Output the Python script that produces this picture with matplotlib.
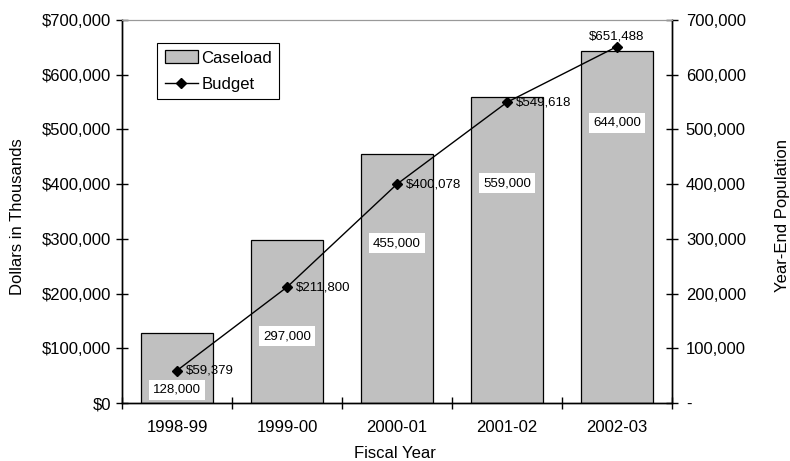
import numpy as np
import matplotlib
matplotlib.use("Agg")
import matplotlib.pyplot as plt
from matplotlib.ticker import FuncFormatter, FixedLocator

plt.rcParams['font.family'] = ['Liberation Sans', 'DejaVu Sans']

years = ["1998-99", "1999-00", "2000-01", "2001-02", "2002-03"]
caseload = [128000, 297000, 455000, 559000, 644000]
budget = [59379, 211800, 400078, 549618, 651488]

# where the bar value boxes sit (right-axis units)
caseload_label_y = [24000, 122000, 292000, 402000, 512000]

x = np.arange(len(years))
W, H = 790, 461

fig = plt.figure(figsize=(W / 100, H / 100), dpi=100)
ax = fig.add_axes([122 / W, 1 - 403 / H, 550 / W, 383 / H])
ax2 = ax.twinx()

# bars on right axis, line on left axis drawn above
ax.set_zorder(ax2.get_zorder() + 1)
ax.patch.set_visible(False)

bars = ax2.bar(x, caseload, width=0.66, color='#c0c0c0', edgecolor='black',
               linewidth=0.9, label='Caseload')
for xi, v, ly in zip(x, caseload, caseload_label_y):
    ax2.text(xi, ly, f"{v:,}", ha='center', va='center', fontsize=9.5,
             bbox=dict(facecolor='white', edgecolor='none', pad=3))

line, = ax.plot(x, budget, color='black', linewidth=1, marker='D',
                markersize=5.5, label='Budget')
for xi, v in zip(x, budget):
    if xi == len(x) - 1:
        ax.text(xi, v + 8000, f"${v:,}", ha='center', va='bottom', fontsize=9.5)
    else:
        ax.text(xi + 0.08, v, f"${v:,}", ha='left', va='center', fontsize=9.5)

for a in (ax, ax2):
    a.set_xlim(-0.5, len(x) - 0.5)
    a.set_ylim(0, 700000)
    a.set_yticks(np.arange(0, 700001, 100000))
    a.spines['top'].set_color('#999999')
    for s in ('left', 'right', 'bottom'):
        a.spines[s].set_linewidth(1)

ax.yaxis.set_major_formatter(FuncFormatter(lambda v, p: f"${v:,.0f}"))
ax2.yaxis.set_major_formatter(FuncFormatter(lambda v, p: "-" if v == 0 else f"{v:,.0f}"))

ax.xaxis.set_major_locator(FixedLocator(np.arange(-0.5, len(x), 1.0)))
ax.xaxis.set_major_formatter(FuncFormatter(lambda v, p: ""))
ax.xaxis.set_minor_locator(FixedLocator(x))
ax.set_xticklabels(years, minor=True)
ax.tick_params(axis='x', which='minor', length=0, labelsize=12, pad=12)
ax.tick_params(axis='x', which='major', direction='inout', length=8, width=1)
ax.tick_params(axis='y', direction='inout', length=8, width=1, labelsize=12, pad=4)
ax2.tick_params(axis='y', direction='inout', length=8, width=1, labelsize=12, pad=6)
ax2.tick_params(axis='x', length=0)

fig.text(395 / W, 1 - 453 / H, "Fiscal Year", fontsize=12, ha='center', va='center')
fig.text(18 / W, 1 - 217 / H, "Dollars in Thousands", fontsize=12,
         rotation=90, ha='center', va='center')
fig.text(783 / W, 1 - 216 / H, "Year-End Population", fontsize=12,
         rotation=90, ha='center', va='center')

leg = ax.legend([bars, line], ['Caseload', 'Budget'], loc='upper left',
                bbox_to_anchor=(35 / 550, 1 - 23 / 383), fontsize=12, frameon=True,
                fancybox=False, edgecolor='black', framealpha=1,
                handlelength=2.0, handleheight=0.8, borderpad=0.45,
                labelspacing=0.65, handletextpad=0.2, borderaxespad=0)
leg.get_frame().set_linewidth(0.8)

fig.savefig("out.png", dpi=100)
